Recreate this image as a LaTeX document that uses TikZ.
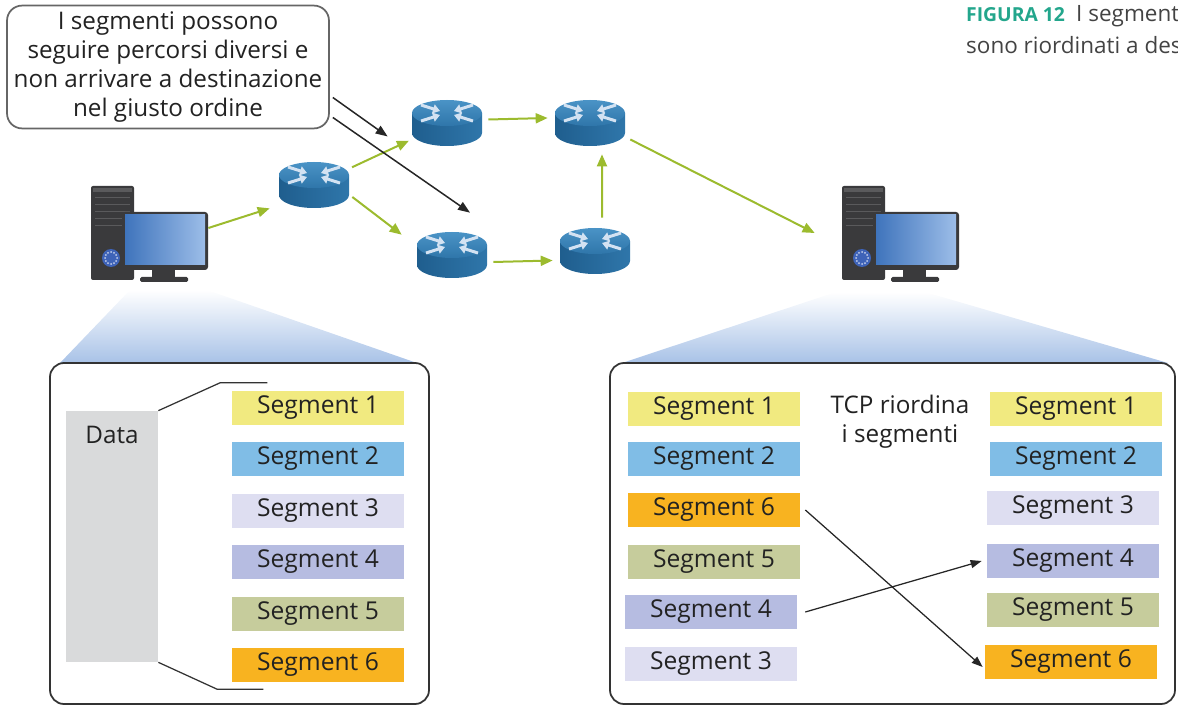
\documentclass[tikz,border=0pt]{standalone}
\usepackage{fontspec}
\setmainfont{Open Sans}
\usepackage{xcolor}
\usetikzlibrary{arrows.meta, positioning, calc}
\definecolor{segyellow}{HTML}{F1EA80}
\definecolor{segblue}{HTML}{80BDE6}
\definecolor{segpale}{HTML}{DEDEF1}
\definecolor{seglav}{HTML}{B6BCE1}
\definecolor{segolive}{HTML}{C6CC9C}
\definecolor{segorange}{HTML}{F8B320}
\definecolor{datagray}{HTML}{D9DADB}
\definecolor{flowgreen}{HTML}{9CBB2E}
\definecolor{figgreen}{HTML}{23A68C}
\definecolor{inkdark}{HTML}{222222}
\definecolor{boxline}{HTML}{333333}
\definecolor{zoomblue}{HTML}{A8C2E7}
\definecolor{rtdark}{HTML}{1F5E8E}
\definecolor{rtmid}{HTML}{2F76AA}
\definecolor{rtlight}{HTML}{4A93C6}
\definecolor{rtmark}{HTML}{D3E2F2}
\definecolor{pcdark}{HTML}{3A3A3C}
\definecolor{pcline}{HTML}{5A5A5C}
\definecolor{scrdark}{HTML}{3F74BC}
\definecolor{scrlight}{HTML}{9CBDE8}
\definecolor{fanblue}{HTML}{3E63B8}

\tikzset{
  seg/.style={minimum width=3.44cm, minimum height=0.7cm, inner sep=0pt,
    text=inkdark, font=\fontsize{14}{16}\selectfont},
  flow/.style={flowgreen, line width=0.04cm, -{Triangle[length=0.24cm, width=0.2cm]}},
  hop/.style={black!85, line width=0.03cm, -{Triangle[length=0.24cm, width=0.18cm]}},
  swap/.style={black!85, line width=0.025cm, -{Triangle[length=0.22cm, width=0.16cm]}},
  zoomed/.style={boxline, line width=0.035cm, fill=white, rounded corners=0.28cm},
  router/.pic={
    % body and top of the cylinder
    \shade[left color=rtdark, right color=rtmid] (-35,-10) -- (-35,10)
      arc[start angle=180, end angle=0, x radius=35, y radius=13] -- (35,-10) -- cycle;
    \shade[top color=rtlight, bottom color=rtmid] (0,-10) ellipse [x radius=35, y radius=13];
    % arrows on top
    \foreach \s in {-1,1} {
      \draw[rtmark, line width=0.06cm, -{Triangle[length=0.14cm, width=0.18cm]}] (\s*26,-18) -- (\s*7,-12);
      \draw[rtmark, line width=0.06cm, -{Triangle[length=0.14cm, width=0.18cm]}] (\s*26,-2) -- (\s*7,-8);
    }
    \node[inner sep=0pt, minimum width=1.4cm, minimum height=0.92cm] (-b) at (0,0) {};
  },
  pc/.pic={
    % tower
    \fill[pcdark, rounded corners=0.04cm] (0,0) rectangle (43,94);
    \fill[pcline] (2,2) rectangle (41,6);
    \foreach \y in {12,19,26,33,40} \draw[pcline, line width=0.02cm] (4,\y) -- (39,\y);
    \fill[white!80!black] (33,42) rectangle (36,47);
    \fill[fanblue] (20,72) circle [radius=9];
    \foreach \a in {0,30,...,330} \fill[white!70!fanblue] (20,72) ++(\a:6) circle [radius=1];
    % monitor
    \fill[pcdark, rounded corners=0.06cm] (31,26) rectangle (117,84);
    \shade[left color=scrdark, right color=scrlight] (34,29) rectangle (114,79);
    \fill[pcdark] (61,84) rectangle (84,93);
    \fill[pcdark, rounded corners=0.03cm] (49,91) rectangle (97,96);
    \node[inner sep=0pt, minimum width=1.72cm, minimum height=1.16cm] (-m) at (74,55) {};
  }
}

\begin{document}
\begin{tikzpicture}[x=0.02cm, y=-0.02cm, font=\fontsize{13.8}{16.6}\selectfont]
\useasboundingbox (0,0) rectangle (1178,706);
\clip (0,0) rectangle (1178,706);

% caption, top right
\node[anchor=west, text=inkdark!85, font=\fontsize{12.8}{14}\selectfont] (cap1) at (960,16)
  {{\color{figgreen}\bfseries\fontsize{11}{14}\selectfont FIGURA\ 12}\enspace I segmenti};
\node[anchor=west, text=inkdark!85, font=\fontsize{12.8}{14}\selectfont] (cap2) at (960,45)
  {sono riordinati a destinazione};

% callout
\node[draw=black!60, line width=0.035cm, rounded corners=0.3cm, fill=white,
  minimum width=6.44cm, minimum height=2.38cm, align=center, text=inkdark] (note) at (168,67)
  {I segmenti possono\\seguire percorsi diversi e\\non arrivare a destinazione\\nel giusto ordine};

% hosts and routers
\pic (pc1) at (91,186) {pc};
\pic (pc2) at (842,186) {pc};
\pic (r1) at (314,185) {router};
\pic (r2) at (447,123) {router};
\pic (r3) at (590,123) {router};
\pic (r4) at (452,255) {router};
\pic (r5) at (595,251) {router};

% paths through the network
\draw[flow] ([yshift=0.26cm]pc1-m.east) -- ([xshift=-0.18cm]r1-b.south west);
\draw[flow, shorten <=0.84cm, shorten >=0.84cm] (r1-b.center) -- (r2-b.center);
\draw[flow] ([yshift=-0.24cm, xshift=0.06cm]r1-b.east) -- ([shift={(-0.3cm,-0.06cm)}]r4-b.north west);
\draw[flow] ([shift={(0.12cm,0.07cm)}]r2-b.east) -- ([shift={(-0.14cm,0.1cm)}]r3-b.west);
\draw[flow] ([shift={(0.12cm,-0.14cm)}]r4-b.east) -- ([shift={(-0.14cm,-0.19cm)}]r5-b.west);
\draw[flow] ([shift={(0.14cm,0.2cm)}]r5-b.north) -- ([shift={(0.24cm,-0.16cm)}]r3-b.south);
\draw[flow] ([shift={(0.1cm,-0.33cm)}]r3-b.east) -- ([shift={(-1.16cm,0.16cm)}]pc2-m.west);

% pointers from the callout
\draw[hop] ([shift={(0.06cm,-0.61cm)}]note.east) -- ([shift={(-0.48cm,-0.27cm)}]r2-b.west);
\draw[hop] ([shift={(0.06cm,-1.01cm)}]note.east) -- ([shift={(0.36cm,0.38cm)}]r4-b.north);

% zoom cones
\shade[top color=white, bottom color=zoomblue] (130,290) -- (207,290) -- (417,363) -- (60,363) -- cycle;
\shade[top color=white, bottom color=zoomblue] (836,292) -- (925,292) -- (1168,363) -- (622,363) -- cycle;

% sender side
\draw[zoomed] (50,363) rectangle (429,704);
\node[fill=datagray, minimum width=1.84cm, minimum height=5.02cm, inner sep=0pt] (data) at (112,536.5) {};
\node[text=inkdark] (datalbl) at ([yshift=-0.48cm]data.north) {Data};
\draw[boxline, line width=0.025cm] (data.north east) -- ++(62,-28) -- ++(47,0);
\draw[boxline, line width=0.025cm] (data.south east) -- ++(59,27) -- ++(46,0);

\node[seg, fill=segyellow] (d1) at (318,408) {Segment 1};
\node[seg, fill=segblue]   (d2) at (318,459) {Segment 2};
\node[seg, fill=segpale]   (d3) at (318,511) {Segment 3};
\node[seg, fill=seglav]    (d4) at (318,562) {Segment 4};
\node[seg, fill=segolive]  (d5) at (318,614) {Segment 5};
\node[seg, fill=segorange] (d6) at (318,665) {Segment 6};

% receiver side
\draw[zoomed] (610,363) rectangle (1175,704);

\node[seg, fill=segyellow] (in1) at (714,409) {Segment 1};
\node[seg, fill=segblue]   (in2) at (714,459) {Segment 2};
\node[seg, fill=segorange] (in6) at (714,510) {Segment 6};
\node[seg, fill=segolive]  (in5) at (714,562) {Segment 5};
\node[seg, fill=seglav]    (in4) at (711,612) {Segment 4};
\node[seg, fill=segpale]   (in3) at (711,664) {Segment 3};

\node[align=center, text=inkdark] (tcp) at (900,422) {TCP riordina\\i segmenti};

\node[seg, fill=segyellow] (out1) at (1076,409) {Segment 1};
\node[seg, fill=segblue]   (out2) at (1076,459) {Segment 2};
\node[seg, fill=segpale]   (out3) at (1073,508) {Segment 3};
\node[seg, fill=seglav]    (out4) at (1073,561) {Segment 4};
\node[seg, fill=segolive]  (out5) at (1073,610) {Segment 5};
\node[seg, fill=segorange] (out6) at (1071,662) {Segment 6};

\draw[swap] ([xshift=0.1cm]in6.east) -- ([shift={(-0.04cm,-0.1cm)}]out6.west);
\draw[swap] ([xshift=0.16cm]in4.east) -- ([xshift=-0.1cm]out4.west);
\end{tikzpicture}
\end{document}
